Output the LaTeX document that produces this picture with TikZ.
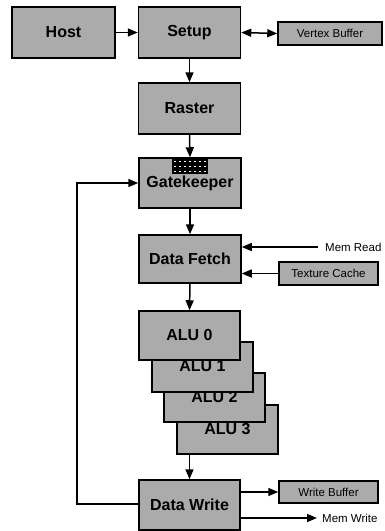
\documentclass[tikz,border=0pt]{standalone}
\usepackage{fontspec}
\setmainfont{Liberation Sans}
\usetikzlibrary{arrows.meta}
\definecolor{boxgray}{HTML}{ABABAB}
\tikzset{
  x=1pt, y=-1pt,
  mainbox/.style={draw, fill=boxgray, line width=1.5pt, inner sep=0pt, minimum width=101pt, minimum height=50pt, font=\fontsize{16}{16}\selectfont\bfseries},
  smallbox/.style={draw, fill=boxgray, line width=1.5pt, inner sep=0pt, minimum width=99pt, minimum height=23pt, font=\fontsize{11.5}{12}\selectfont},
  lbl/.style={inner sep=0pt, font=\fontsize{11.5}{12}\selectfont},
  conn/.style={line width=1.5pt, -{Triangle[length=10pt,width=8pt]}},
  biconn/.style={line width=1.5pt, {Triangle[length=10pt,width=8pt]}-{Triangle[length=10pt,width=8pt]}},
}
\begin{document}
\begin{tikzpicture}
\useasboundingbox (0,0) rectangle (385,531);
% main column
\node[mainbox, minimum width=103pt, minimum height=51pt] (host) at (63.5,32.5) {Host};
\node[mainbox, minimum width=102pt, minimum height=51pt] (setup) at (189.5,32.5) {Setup};
\node[mainbox, minimum width=102pt, minimum height=51pt] (raster) at (189.5,108.5) {Raster};
\node[mainbox, minimum width=102pt] (gk) at (190,183) {Gatekeeper};
\node[mainbox, minimum width=102pt, minimum height=48pt] (df) at (190,259) {Data Fetch};
% ALUs (back to front)
\node[mainbox, minimum height=49pt] (alu3) at (227.5,429.5) {\raisebox{1.5pt}{ALU 3}};
\node[mainbox, minimum height=49pt] (alu2) at (214.5,397.5) {\raisebox{1.5pt}{ALU 2}};
\node[mainbox] (alu1) at (202.5,367) {\raisebox{1.5pt}{ALU 1}};
\node[mainbox, minimum height=49pt] (alu0) at (189.5,335.5) {\raisebox{1.5pt}{ALU 0}};
\node[mainbox] (dw) at (189.5,505) {Data Write};
% side boxes
\node[smallbox, minimum width=104pt] (vb) at (330,33.5) {Vertex Buffer};
\node[smallbox] (tc) at (328.5,273.5) {Texture Cache};
\node[smallbox, minimum height=22pt] (wb) at (328.5,492) {Write Buffer};
% gatekeeper grid
\fill[black] (172,159) rectangle (208,174);
\foreach \i in {0,...,6}{
  \foreach \j in {0,1,2}{
    \fill[white] ({175+5*\i-0.8},{161.5+5*\j-0.8}) rectangle ++(1.6,1.6);
  }
}
% labels
\coordinate (mr) at (318,247);
\node[lbl, anchor=west] (mrl) at (325,247) {Mem Read};
\coordinate (mw) at (317,518);
\node[lbl, anchor=west] (mwl) at (322,518) {Mem Write};
\coordinate (lp) at (77,504);
% connectors
\draw[conn] (host.east) -- (setup.west);
\draw[biconn] (setup.east) -- (vb.west);
\draw[conn] (setup.south) -- (raster.north);
\draw[conn] (raster.south) -- (gk.north);
\draw[conn] (gk.south) -- (df.north);
\draw[conn] (df.south) -- (alu0.north);
\draw[conn] (mr) -- (mr -| df.east);
\draw[conn] (tc.west) -- (tc.west -| df.east);
\draw[conn] (alu3.south -| dw.north) -- (dw.north);
\draw[conn] (wb.west -| dw.east) -- (wb.west);
\draw[conn] (mw -| dw.east) -- (mw);
\draw[conn] (dw.west |- lp) -- (lp) |- (gk.west);
\end{tikzpicture}
\end{document}
